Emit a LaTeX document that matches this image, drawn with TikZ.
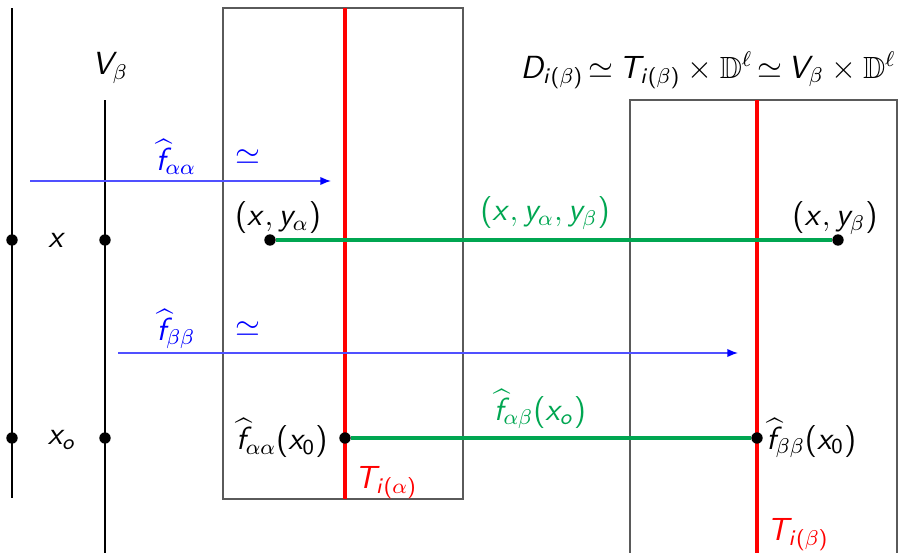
\documentclass[tikz,border=0pt]{standalone}
\usepackage{amssymb}
\usetikzlibrary{arrows.meta}
% sans serif math letters, as on a slide
\DeclareSymbolFont{sfletters}{OT1}{cmss}{m}{it}
\DeclareSymbolFont{sfupright}{OT1}{cmss}{m}{n}
\DeclareMathSymbol{x}{\mathalpha}{sfletters}{`x}
\DeclareMathSymbol{y}{\mathalpha}{sfletters}{`y}
\DeclareMathSymbol{f}{\mathalpha}{sfletters}{`f}
\DeclareMathSymbol{i}{\mathalpha}{sfletters}{`i}
\DeclareMathSymbol{o}{\mathalpha}{sfletters}{`o}
\DeclareMathSymbol{D}{\mathalpha}{sfletters}{`D}
\DeclareMathSymbol{T}{\mathalpha}{sfletters}{`T}
\DeclareMathSymbol{V}{\mathalpha}{sfletters}{`V}
\DeclareMathSymbol{0}{\mathalpha}{sfupright}{`0}
\DeclareMathSymbol{(}{\mathopen}{sfupright}{`(}
\DeclareMathSymbol{)}{\mathclose}{sfupright}{`)}
\definecolor{cBlue}{RGB}{80,80,255}
\definecolor{cGreen}{RGB}{0,166,81}
\definecolor{cFrame}{RGB}{90,90,90}
\tikzset{
  axis/.style={line width=1pt, black},
  slice/.style={line width=1.6pt, red},
  frame/.style={draw=cFrame, line width=0.45pt},
  chart/.style={cBlue, line width=0.55pt, -{Latex[length=1.4mm, width=1.1mm, color=blue]}},
  match/.style={cGreen, line width=1.15pt},
  dot/.style={circle, fill=black, minimum size=1.5mm, inner sep=0pt},
  lbl/.style={inner sep=1pt},
}
\newcommand{\fh}[1]{\widehat{f}_{#1}}

\begin{document}
\begin{tikzpicture}[x=0.375pt, y=-0.375pt, font=\fontsize{11.5}{14}\selectfont]
\useasboundingbox (0,0) rectangle (902,553);

%% -- the base and V_beta -----------------------------------------------
\coordinate (baseTop) at (12,8);
\coordinate (baseBot) at (12,498);
\coordinate (vTop) at (105,100);
\coordinate (vBot) at (105,553);
\draw[axis] (baseTop) -- (baseBot);
\draw[axis] (vTop) -- (vBot);
\node[lbl] (vlab) at (110,68) {$V_\beta$};

\node[dot] (bx) at (12,240) {};
\node[dot] (vx) at (105,240) {};
\node[dot] (bxo) at (12,438) {};
\node[dot] (vxo) at (105,438) {};
\node[lbl] (xlab) at (57,240) {$x$};
\node[lbl] (xolab) at (62,440) {$x_o$};

%% -- the two charts ----------------------------------------------------
\draw[frame] (223,8) rectangle (463,499);
\draw[frame] (630,100) rectangle (897,560);
\coordinate (tATop) at (345,8);
\coordinate (tABot) at (345,499);
\coordinate (tBTop) at (757,100);
\coordinate (tBBot) at (757,560);
\draw[slice] (tATop) -- (tABot);
\draw[slice] (tBTop) -- (tBBot);
\node[lbl, text=red] (tAlab) at (386,483) {$T_{i(\alpha)}$};
\node[lbl, text=red] (tBlab) at (798,535) {$T_{i(\beta)}$};
\node[lbl, anchor=east] (title) at (899,70)
  {\thickmuskip=3mu$D_{i(\beta)}\simeq T_{i(\beta)}\times\mathbb{D}^\ell\simeq V_\beta\times\mathbb{D}^\ell$};

%% -- the maps ----------------------------------------------------------
\coordinate (aaFrom) at (30,181);
\coordinate (aaTo) at (331,181);
\coordinate (bbFrom) at (118,353);
\coordinate (bbTo) at (738,353);
\draw[chart] (aaFrom) -- (aaTo);
\draw[chart] (bbFrom) -- (bbTo);
\node[lbl, text=blue] (aalab) at (176,157) {$\fh{\alpha\alpha}$};
\node[lbl, text=blue] (aasim) at (248,157) {$\simeq$};
\node[lbl, text=blue] (bblab) at (176,329) {$\fh{\beta\beta}$};
\node[lbl, text=blue] (bbsim) at (248,329) {$\simeq$};

%% -- the matched points ------------------------------------------------
\node[dot] (pa) at (270,240) {};
\node[dot] (pb) at (838,240) {};
\draw[match] (pa) -- (pb);
\node[lbl] (palab) at (278,218) {$(x,y_\alpha)$};
\node[lbl] (pblab) at (835,218) {$(x,y_\beta)$};
\node[lbl, text=cGreen] (pablab) at (545,213) {$(x,y_\alpha,y_\beta)$};

\node[dot] (qa) at (345,438) {};
\node[dot] (qb) at (757,438) {};
\draw[match] (qa) -- (qb);
\node[lbl, anchor=east] (qalab) at ([xshift=-3pt]qa.west) {$\fh{\alpha\alpha}(x_0)$};
\node[lbl, anchor=west] (qblab) at ([xshift=0pt]qb.east) {$\fh{\beta\beta}(x_0)$};
\node[lbl, text=cGreen] (qablab) at (540,409) {$\fh{\alpha\beta}(x_o)$};

\end{tikzpicture}
\end{document}
